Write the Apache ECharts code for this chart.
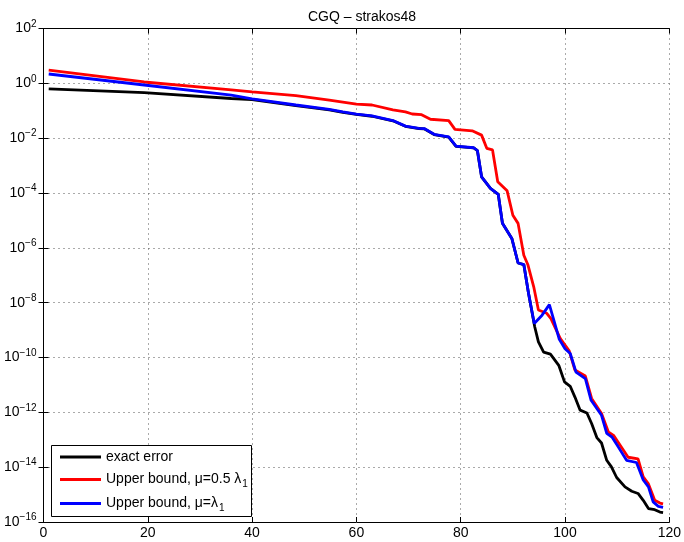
<!DOCTYPE html>
<html><head><meta charset="utf-8">
<script src="https://cdn.jsdelivr.net/npm/echarts@6/dist/echarts.min.js"></script>
<style>html,body{margin:0;padding:0;background:#fff}#c{width:684px;height:542px}</style>
</head><body><div id="c"></div>
<script>
// ---- data ----
const titleText = 'CGQ \u2013 strakos48';
const seriesNames = ['exact error', 'Upper bound, \u03bc=0.5 \u03bb_1', 'Upper bound, \u03bc=\u03bb_1'];
const xTicks = [0, 20, 40, 60, 80, 100, 120];
const yTickExps = [2, 0, -2, -4, -6, -8, -10, -12, -14, -16];

const exactX = [1, 19.3, 36, 40, 48.4, 54.8, 57.4, 60, 63, 67, 69.4, 72, 73, 74.9, 77.7, 79.1, 82.5, 83.2, 84, 85.7, 87.2, 88, 89.8, 91, 92.1, 93, 94.2, 94.9, 95.9, 97.2, 98.8, 99.9, 101, 101.9, 102.9, 104.2, 105.1, 106.1, 107, 108, 108.9, 109.9, 111.5, 112.8, 114, 115, 116, 117.2, 118.2, 118.8];
const exactY = [0.63, 0.457, 0.28, 0.257, 0.155, 0.107, 0.088, 0.074, 0.063, 0.043, 0.027, 0.0225, 0.022, 0.0136, 0.011, 0.005, 0.0044, 0.0035, 3.9e-4, 1.48e-4, 8.9e-5, 7.9e-6, 2.2e-6, 2.8e-7, 2.45e-7, 2.2e-8, 1.3e-9, 3.7e-10, 1.58e-10, 1.32e-10, 5.2e-11, 1.29e-11, 8.9e-12, 3.6e-12, 1.2e-12, 9.5e-13, 3.9e-13, 1.2e-13, 7.6e-14, 1.78e-14, 1.02e-14, 4.2e-15, 1.9e-15, 1.32e-15, 1.1e-15, 6.2e-16, 3.1e-16, 2.8e-16, 2.3e-16, 2.2e-16];

const halfX = [1, 19.3, 36, 40, 48.4, 54.8, 60, 63, 67, 69.4, 70.7, 72.5, 74.2, 77.7, 78.9, 82.2, 84, 85, 86.1, 87.1, 88.9, 90, 91, 92.1, 92.9, 94, 94.9, 96.5, 97.3, 99.1, 100.8, 101.9, 103.9, 105.1, 107, 108.3, 109.3, 112.1, 114, 115, 116, 117.2, 118.2, 118.8];
const halfY = [3.05, 1.12, 0.575, 0.49, 0.355, 0.245, 0.174, 0.162, 0.107, 0.091, 0.076, 0.072, 0.049, 0.0437, 0.0209, 0.0186, 0.0129, 0.00427, 0.00372, 2.57e-4, 1.2e-4, 1.55e-5, 7.8e-6, 5.4e-7, 2.35e-7, 3.8e-8, 5.4e-9, 4.1e-9, 2.6e-9, 4.9e-10, 1.74e-10, 3.5e-11, 2.1e-11, 3.2e-12, 9.1e-13, 1.95e-13, 1.45e-13, 2.3e-14, 2.0e-14, 4.4e-15, 2.45e-15, 6.2e-16, 4.9e-16, 4.6e-16];

const fullX = [1, 19.3, 36, 40, 48.4, 54.8, 57.4, 60, 63, 67, 69.4, 72, 73, 74.9, 77.7, 79.1, 82.5, 83.2, 84, 85.7, 87.2, 88, 89.8, 91, 92.1, 93, 94.1, 95.6, 97, 97.8, 98.9, 100, 101, 102.1, 103.9, 105, 107, 108, 109, 110.2, 111.8, 113.7, 115, 116, 116.9, 117.9, 118.8];
const fullY = [2.19, 0.87, 0.37, 0.27, 0.162, 0.112, 0.091, 0.076, 0.065, 0.044, 0.0275, 0.0229, 0.0224, 0.0138, 0.0112, 0.0051, 0.00447, 0.00355, 3.9e-4, 1.48e-4, 8.9e-5, 7.9e-6, 2.2e-6, 2.8e-7, 2.45e-7, 2.2e-8, 1.74e-9, 3.5e-9, 8.5e-9, 2.5e-9, 4.6e-10, 2.1e-10, 1.4e-10, 2.95e-11, 1.7e-11, 2.75e-12, 7.8e-13, 1.7e-13, 1.26e-13, 5.5e-14, 1.78e-14, 1.48e-14, 3.4e-15, 1.9e-15, 5.4e-16, 3.7e-16, 3.4e-16];

// ---- chart ----
const pair = (xs, ys) => xs.map((x, i) => [x, ys[i]]);
const font = 'Liberation Sans, Arial, sans-serif';
const supLabel = v => {
  const e = Math.round(Math.log10(v));
  return '{b|10}{s|' + (e < 0 ? '\u2212' + (-e) : e) + '}';
};
const rich = {
  b: {fontSize: 14, fontFamily: font, color: '#000', lineHeight: 18},
  s: {fontSize: 10, fontFamily: font, color: '#000', lineHeight: 18, padding: [0, 0, 9, 0]}
};
const legendFmt = n => {
  const k = n.indexOf('_');
  return k < 0 ? '{t|' + n + '}' : '{t|' + n.slice(0, k) + '}{u|' + n.slice(k + 1) + '}';
};
const legendRowTops = [450, 470, 494];
const makeLegend = (name, top) => ({
  left: 60, top: top, orient: 'horizontal', padding: 0,
  itemWidth: 41, itemHeight: 3, icon: 'rect', data: [name], formatter: legendFmt,
  selectedMode: false, z: 10,
  textStyle: {
    fontSize: 14, fontFamily: font, color: '#000',
    rich: {
      t: {fontSize: 14, fontFamily: font, color: '#000', lineHeight: 16},
      u: {fontSize: 10, fontFamily: font, color: '#000', lineHeight: 16, padding: [9, 0, 0, 1]}
    }
  }
});
const chart = echarts.init(document.getElementById('c'), null, {renderer: 'canvas'});
const gridStyle = {show: true, lineStyle: {color: '#555', type: [1, 4], width: 1}};
chart.setOption({
  animation: false,
  backgroundColor: '#fff',
  title: {text: titleText, left: 357, top: 5, textAlign: 'center',
    textStyle: {fontSize: 14, fontWeight: 'normal', fontFamily: font, color: '#000'}},
  grid: {left: 43.5, right: 13, top: 28.5, bottom: 20},
  graphic: [{
    type: 'rect', z: 8, shape: {x: 51.5, y: 445.5, width: 200, height: 71},
    style: {fill: '#fff', stroke: '#000', lineWidth: 1}
  }],
  xAxis: [{
    type: 'value', min: xTicks[0], max: xTicks[xTicks.length - 1], interval: 20,
    axisLine: {lineStyle: {color: '#000', width: 1}},
    axisTick: {inside: true, length: 5, lineStyle: {color: '#000'}},
    axisLabel: {fontSize: 14, fontFamily: font, color: '#000', margin: 4},
    splitLine: gridStyle
  }, {
    type: 'value', position: 'top', min: 0, max: 120, interval: 20,
    axisLine: {show: true, lineStyle: {color: '#000'}},
    axisTick: {inside: true, length: 5, lineStyle: {color: '#000'}},
    axisLabel: {show: false}, splitLine: {show: false}
  }],
  yAxis: [{
    type: 'log', logBase: 10, min: 1e-16, max: 1e2, interval: 2,
    axisLine: {show: true, lineStyle: {color: '#000', width: 1}},
    axisTick: {show: true, inside: true, length: 5, lineStyle: {color: '#000'}},
    axisLabel: {formatter: supLabel, rich: rich, margin: 7},
    splitLine: gridStyle
  }, {
    type: 'log', logBase: 10, min: 1e-16, max: 1e2, interval: 2, position: 'right',
    axisLine: {show: true, lineStyle: {color: '#000', width: 1}},
    axisTick: {show: true, inside: true, length: 5, lineStyle: {color: '#000'}},
    axisLabel: {show: false}, splitLine: {show: false}
  }],
  legend: seriesNames.map((n, i) => makeLegend(n, legendRowTops[i])),
  series: [
    {name: seriesNames[0], type: 'line', data: pair(exactX, exactY), showSymbol: false,
     lineStyle: {color: '#000', width: 2.8}, itemStyle: {color: '#000'}},
    {name: seriesNames[1], type: 'line', data: pair(halfX, halfY), showSymbol: false,
     lineStyle: {color: '#ff0000', width: 2.8}, itemStyle: {color: '#ff0000'}},
    {name: seriesNames[2], type: 'line', data: pair(fullX, fullY), showSymbol: false,
     lineStyle: {color: '#0000ff', width: 2.8}, itemStyle: {color: '#0000ff'}}
  ]
});
</script></body></html>
